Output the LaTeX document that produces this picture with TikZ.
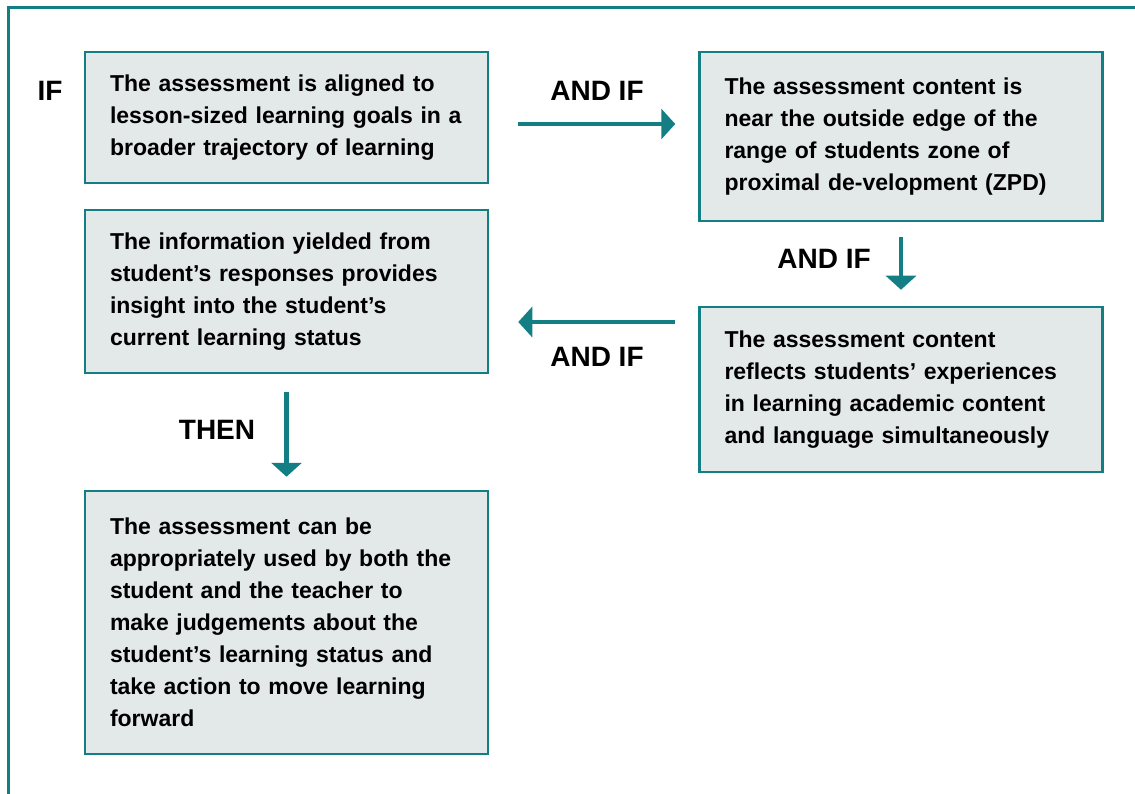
\documentclass[tikz,border=0pt]{standalone}
\usepackage{fontspec}
\setmainfont{Liberation Sans}
\usetikzlibrary{arrows.meta,calc}
\definecolor{teal}{HTML}{137F84}
\definecolor{boxfill}{HTML}{E3E8E8}
\tikzset{
  stepbox/.style={draw=teal, line width=2.5pt, fill=boxfill, align=left,
    text width=353pt, inner xsep=25pt, inner ysep=0pt,
    font=\fontsize{23}{32}\selectfont\bfseries},
  flow/.style={draw=teal, line width=4.5pt,
    -{Triangle[length=14pt,width=30pt]}},
  cond/.style={font=\fontsize{28}{32}\selectfont\bfseries, inner sep=0pt}
}
\begin{document}
\begin{tikzpicture}[x=1pt,y=-1pt]
\useasboundingbox (0,0) rectangle (1135,794);
% outer frame
\draw[teal, line width=3pt] (8,800) -- (8,8) -- (1140,8);

\node[stepbox, minimum height=131pt] (b1) at (286.5,117.5)
  {The assessment is aligned to\\lesson-sized learning goals in a\\broader trajectory of learning};
\node[stepbox, minimum height=169pt] (b2) at (901,136.5)
  {The assessment content is\\near the outside edge of the\\range of students zone of\\proximal de-velopment (ZPD)};
\node[stepbox, minimum height=163pt] (b3) at (286.5,291.5)
  {The information yielded from\\student’s responses provides\\insight into the student’s\\current learning status};
\node[stepbox, minimum height=165pt] (b4) at (901,389.5)
  {The assessment content\\reflects students’ experiences\\in learning academic content\\and language simultaneously};
\node[stepbox, minimum height=263pt] (b5) at (286.5,622.5)
  {The assessment can be\\appropriately used by both the\\student and the teacher to\\make judgements about the\\student’s learning status and\\take action to move learning\\forward};

% connectors
\coordinate (a1s) at ([xshift=29pt,yshift=-6.5pt]b1.east);
\draw[flow, shorten >=23pt] (a1s) -- (a1s -| b2.west);
\draw[flow, shorten <=15pt, shorten >=16pt] (b2.south) -- (b4.north);
\coordinate (a3s) at ([xshift=-23pt,yshift=67.5pt]b4.west);
\draw[flow, shorten >=29pt] (a3s) -- (a3s -| b3.east);
\draw[flow, shorten <=18pt, shorten >=13pt] (b3.south) -- (b5.north);

% condition labels
\node[cond] (lif) at (50,91) {IF};
\node[cond] (l1) at (597,91) {AND IF};
\node[cond] (l2) at (824,259) {AND IF};
\node[cond] (l3) at (597,357) {AND IF};
\node[cond] (l4) at (217,430) {THEN};
\end{tikzpicture}
\end{document}
